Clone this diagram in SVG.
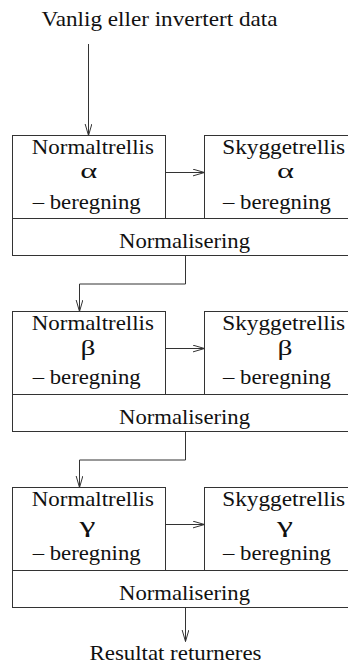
<svg xmlns="http://www.w3.org/2000/svg" width="348" height="665" viewBox="0 0 348 665">
  <style>
    .box { fill: #ffffff; stroke: #333333; stroke-width: 1; }
    .t { font-family: "Liberation Serif", "Times New Roman", serif; font-size: 21px; fill: #111111; text-anchor: middle; }
    .g { font-family: "Liberation Serif", "Times New Roman", serif; font-size: 22px; fill: #111111; text-anchor: middle; }
    .conn { fill: none; stroke: #333333; stroke-width: 1; }
  </style>
  <defs>
    <marker id="arrow" markerUnits="userSpaceOnUse" markerWidth="14" markerHeight="10" refX="12" refY="3.5" orient="auto">
      <path d="M0,0 L12,3.5 L0,7" fill="none" stroke="#333333" stroke-width="1"/>
    </marker>
  </defs>
  <rect x="0" y="0" width="348" height="665" fill="#ffffff"/>

  <g id="input">
    <text class="t" x="159.5" y="26" textLength="236" lengthAdjust="spacingAndGlyphs">Vanlig eller invertert data</text>
  </g>

  <!-- Row alpha -->
  <g id="normal-alpha">
    <rect class="box" x="12.5" y="135.5" width="153" height="83"/>
    <text class="t" x="92.8" y="153.5" textLength="122" lengthAdjust="spacingAndGlyphs">Normaltrellis</text>
    <text class="g" x="88.7" y="178" textLength="17" lengthAdjust="spacingAndGlyphs">α</text>
    <text class="t" x="86.7" y="208.5" textLength="108" lengthAdjust="spacingAndGlyphs">– beregning</text>
  </g>
  <g id="skygge-alpha">
    <rect class="box" x="204.5" y="135.5" width="146" height="83"/>
    <text class="t" x="283.7" y="153.5" textLength="123" lengthAdjust="spacingAndGlyphs">Skyggetrellis</text>
    <text class="g" x="285.5" y="178" textLength="17" lengthAdjust="spacingAndGlyphs">α</text>
    <text class="t" x="277" y="208.5" textLength="108" lengthAdjust="spacingAndGlyphs">– beregning</text>
  </g>
  <g id="norm-alpha">
    <rect class="box" x="12.5" y="218.5" width="338" height="37"/>
    <text class="t" x="184.5" y="248" textLength="131" lengthAdjust="spacingAndGlyphs">Normalisering</text>
  </g>

  <!-- Row beta -->
  <g id="normal-beta">
    <rect class="box" x="12.5" y="311.5" width="153" height="83"/>
    <text class="t" x="92.8" y="330" textLength="122" lengthAdjust="spacingAndGlyphs">Normaltrellis</text>
    <text class="g" x="88" y="355" textLength="15" lengthAdjust="spacingAndGlyphs">β</text>
    <text class="t" x="86.7" y="383.5" textLength="108" lengthAdjust="spacingAndGlyphs">– beregning</text>
  </g>
  <g id="skygge-beta">
    <rect class="box" x="204.5" y="311.5" width="146" height="83"/>
    <text class="t" x="283.7" y="330" textLength="123" lengthAdjust="spacingAndGlyphs">Skyggetrellis</text>
    <text class="g" x="285" y="355" textLength="15" lengthAdjust="spacingAndGlyphs">β</text>
    <text class="t" x="277" y="383.5" textLength="108" lengthAdjust="spacingAndGlyphs">– beregning</text>
  </g>
  <g id="norm-beta">
    <rect class="box" x="12.5" y="394.5" width="338" height="37"/>
    <text class="t" x="184.5" y="424" textLength="131" lengthAdjust="spacingAndGlyphs">Normalisering</text>
  </g>

  <!-- Row gamma -->
  <g id="normal-gamma">
    <rect class="box" x="12.5" y="487.5" width="153" height="83"/>
    <text class="t" x="92.8" y="506" textLength="122" lengthAdjust="spacingAndGlyphs">Normaltrellis</text>
    <text class="g" x="87.5" y="531.5" textLength="16" lengthAdjust="spacingAndGlyphs">γ</text>
    <text class="t" x="86.7" y="559.5" textLength="108" lengthAdjust="spacingAndGlyphs">– beregning</text>
  </g>
  <g id="skygge-gamma">
    <rect class="box" x="204.5" y="487.5" width="146" height="83"/>
    <text class="t" x="283.7" y="506" textLength="123" lengthAdjust="spacingAndGlyphs">Skyggetrellis</text>
    <text class="g" x="285" y="531.5" textLength="16" lengthAdjust="spacingAndGlyphs">γ</text>
    <text class="t" x="277" y="559.5" textLength="108" lengthAdjust="spacingAndGlyphs">– beregning</text>
  </g>
  <g id="norm-gamma">
    <rect class="box" x="12.5" y="570.5" width="338" height="37"/>
    <text class="t" x="184.5" y="600" textLength="131" lengthAdjust="spacingAndGlyphs">Normalisering</text>
  </g>

  <g id="output">
    <text class="t" x="175.5" y="660" textLength="172" lengthAdjust="spacingAndGlyphs">Resultat returneres</text>
  </g>

  <g id="connectors">
    <path class="conn" d="M88.5,44 V135.5" marker-end="url(#arrow)"/>
    <path class="conn" d="M165.5,172.5 H204.5" marker-end="url(#arrow)"/>
    <path class="conn" d="M185.5,255.5 V284 H79.5 V311.5" marker-end="url(#arrow)"/>
    <path class="conn" d="M165.5,348.5 H204.5" marker-end="url(#arrow)"/>
    <path class="conn" d="M185.5,431.5 V460 H79.5 V487.5" marker-end="url(#arrow)"/>
    <path class="conn" d="M165.5,524.5 H204.5" marker-end="url(#arrow)"/>
    <path class="conn" d="M185.5,607.5 V641.5" marker-end="url(#arrow)"/>
  </g>
</svg>
